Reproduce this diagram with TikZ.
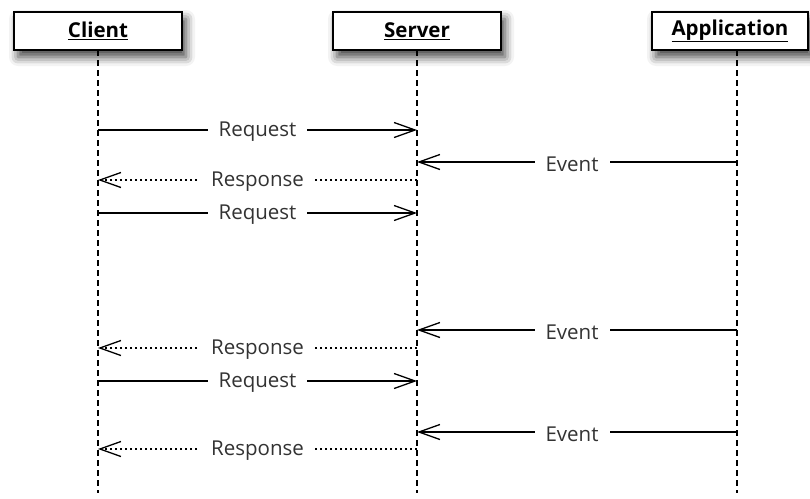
\documentclass[tikz,border=0pt]{standalone}
\usepackage{fontspec}
\setmainfont{Open Sans}
\usetikzlibrary{arrows.meta,shadows.blur}
\tikzset{
  actor/.style={draw=black, line width=1.3pt, fill=white, minimum width=168pt, minimum height=38pt,
    font=\fontsize{20.5}{24}\selectfont\bfseries,
    blur shadow={shadow xshift=4pt, shadow yshift=-7pt, shadow blur radius=9pt, shadow opacity=75}},
  lifeline/.style={line width=1.3pt, dash pattern=on 6pt off 4pt},
  msg/.style={line width=1.3pt, -{Straight Barb[length=21pt,width=15pt,line width=1.3pt]}},
  reply/.style={msg, dash pattern=on 2pt off 3pt},
  lbl/.style={fill=white, inner xsep=11pt, inner ysep=2pt, yshift=-2pt, font=\fontsize{20.5}{24}\selectfont, text=black!80}
}
\begin{document}
\begin{tikzpicture}[x=1pt,y=-1pt]
\useasboundingbox (0,0) rectangle (810,498);
% lifeline coordinates
\coordinate (cTop) at (98,50);
\coordinate (sTop) at (417,50);
\coordinate (aTop) at (737,50);
\coordinate (cBot) at (98,493);
\coordinate (sBot) at (417,493);
\coordinate (aBot) at (737,493);
\draw[lifeline] (cTop) -- (cBot);
\draw[lifeline] (sTop) -- (sBot);
\draw[lifeline] (aTop) -- (aBot);
% actors
\node[actor] (client) at (98,31) {\underline{Client}};
\node[actor] (server) at (417,31) {\underline{Server}};
\node[actor, minimum width=156pt] (app) at (730,31) {\underline{Application}};
% message points
\foreach \n/\y in {1/130,2/180,3/213,4/348,5/381,6/449} {
  \coordinate (c\n) at (98,\y);
  \coordinate (s\n) at (417,\y);
}
\foreach \n/\y in {1/162,2/330,3/432} {
  \coordinate (se\n) at (417,\y);
  \coordinate (a\n) at (737,\y);
}
% requests
\draw[msg] (c1) -- node[lbl] (rq1) {Request} (s1);
\draw[msg] (c3) -- node[lbl] (rq2) {Request} (s3);
\draw[msg] (c5) -- node[lbl] (rq3) {Request} (s5);
% responses
\draw[reply] (s2) -- node[lbl] (rs1) {Response} (c2);
\draw[reply] (s4) -- node[lbl] (rs2) {Response} (c4);
\draw[reply] (s6) -- node[lbl] (rs3) {Response} (c6);
% events
\draw[msg] (a1) -- node[lbl, xshift=-5pt] (ev1) {Event} (se1);
\draw[msg] (a2) -- node[lbl, xshift=-5pt] (ev2) {Event} (se2);
\draw[msg] (a3) -- node[lbl, xshift=-5pt] (ev3) {Event} (se3);
\end{tikzpicture}
\end{document}
